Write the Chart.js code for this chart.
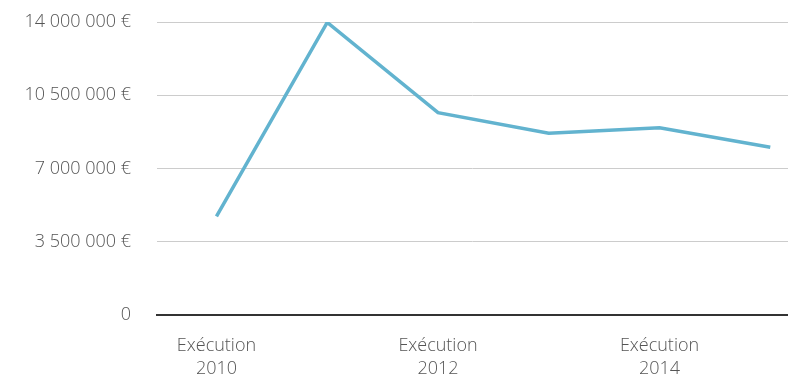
<!DOCTYPE html>
<html><head><meta charset="utf-8">
<script src="https://cdn.jsdelivr.net/npm/chart.js@4"></script>
<style>html,body{margin:0;padding:0;background:#fff}#w{width:788px;height:374px}</style>
</head><body><div id="w"><canvas id="c"></canvas></div>
<script>
const categories = [["Exécution","2010"],["Exécution","2011"],["Exécution","2012"],["Exécution","2013"],["Exécution","2014"],["Exécution","2015"]];
const values = [4710000, 13980000, 9670000, 8690000, 8950000, 8020000];
const yTicks = [0, 3500000, 7000000, 10500000, 14000000];
const shownCategoryIdx = [0, 2, 4];

function fmt(v){ return String(v).replace(/\B(?=(\d{3})+(?!\d))/g, " "); }

new Chart(document.getElementById('c'), {
  type: 'line',
  data: {
    datasets: [{
      data: values.map((v,i)=>({x:i,y:v})),
      borderColor: '#62b3cf',
      borderWidth: 3.5,
      pointRadius: 0,
      tension: 0,
      fill: false
    }]
  },
  options: {
    responsive: true, maintainAspectRatio: false, animation: false,
    layout: { padding: { top: 22, right: 0, left: 0, bottom: 0 } },
    plugins: { legend: { display: false }, tooltip: { enabled: false } },
    scales: {
      x: {
        type: 'linear', min: -0.537, max: 5.16,
        afterBuildTicks: s => { s.ticks = shownCategoryIdx.map(i => ({value: i})); },
        afterFit: s => { s.height = 59; },
        grid: { display: false, drawTicks: false },
        border: { display: true, color: '#333', width: 2 },
        ticks: {
          color: '#555', font: { family: 'Open Sans', size: 18, weight: '300', lineHeight: 1.25 }, padding: 20,
          maxRotation: 0, autoSkip: false,
          callback: v => categories[v]
        }
      },
      y: {
        min: 0, max: 14000000,
        afterBuildTicks: s => { s.ticks = yTicks.map(v => ({value: v})); },
        afterFit: s => { s.width = 157; },
        grid: { color: '#cccccc', lineWidth: 1, drawTicks: true, tickLength: 26, tickColor: 'rgba(0,0,0,0)' },
        border: { display: false },
        ticks: {
          color: '#555', font: { family: 'Open Sans', size: 18, weight: '300' }, padding: 0,
          callback: v => v === 0 ? '0' : fmt(v) + ' €'
        }
      }
    }
  }
});
</script></body></html>
